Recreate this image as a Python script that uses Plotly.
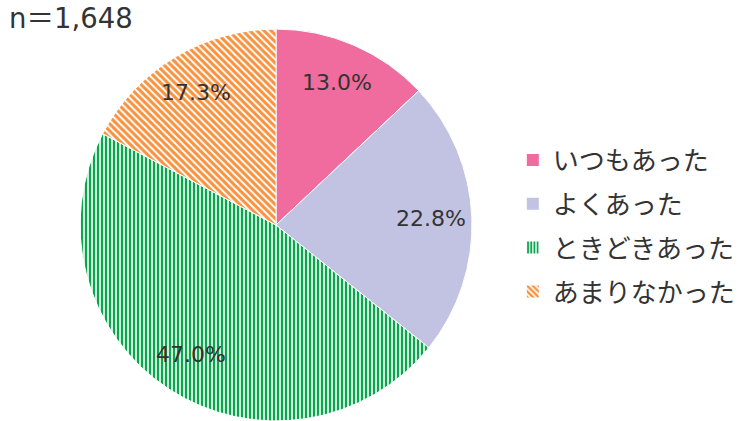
import math
import plotly.graph_objects as go

labels = ["いつもあった", "よくあった", "ときどきあった", "あまりなかった"]
values = [13.0, 22.8, 47.0, 17.3]
text_labels = ["13.0%", "22.8%", "47.0%", "17.3%"]
n_label = "n＝1,648"

colors = ["#F06C9E", "#C2C2E2", "#FFFFFF", "#FFFFFF"]
fg = ["#F06C9E", "#C2C2E2", "#0AA64F", "#F7923F"]
shapes = ["", "", "|", "\\"]
psize = [4, 4, 4, 5]

W, H = 740, 421
dom_x = [0.108, 0.638]
dom_y = [0.0, 0.931]

fig = go.Figure()
fig.add_trace(go.Pie(
    labels=labels, values=values,
    textinfo="none", showlegend=False,
    sort=False, direction="clockwise", rotation=0,
    marker=dict(colors=colors, line=dict(color="white", width=1),
                pattern=dict(shape=shapes, fgcolor=fg, bgcolor=colors,
                             size=psize, solidity=0.6, fillmode="replace")),
    domain=dict(x=dom_x, y=dom_y),
    hoverinfo="label+percent",
))

# legend entries (bar traces so the legend swatches carry the patterns)
for i, lab in enumerate(labels):
    fig.add_trace(go.Bar(
        x=[lab], y=[0], name=lab, legendgroup=lab,
        marker=dict(color=colors[i], line=dict(width=0),
                    pattern=dict(shape=shapes[i], fgcolor=fg[i], bgcolor=colors[i],
                                 size=psize[i], solidity=0.6, fillmode="replace")),
        hoverinfo="skip",
    ))

# percentage labels placed along each slice's mid-angle
cx = (dom_x[0] + dom_x[1]) / 2 * W
cy = (dom_y[0] + dom_y[1]) / 2 * H
R = min((dom_x[1] - dom_x[0]) * W, (dom_y[1] - dom_y[0]) * H) / 2
total = sum(values)
cum = 0.0
for v, t in zip(values, text_labels):
    mid = (cum + v / 2) / total * 2 * math.pi
    cum += v
    r = 0.79 * R
    px = cx + r * math.sin(mid)
    py = cy + r * math.cos(mid)
    fig.add_annotation(text=t, x=px / W, y=py / H, xref="paper", yref="paper",
                       showarrow=False, xanchor="center", yanchor="middle",
                       font=dict(size=22, color="#333333", family="DejaVu Sans"))

fig.add_annotation(text=n_label, x=0.010, y=1.0, xref="paper", yref="paper",
                   xanchor="left", yanchor="top", showarrow=False,
                   font=dict(size=27.5, color="#333333", family="DejaVu Sans, Noto Sans CJK JP"))

fig.update_layout(
    width=W, height=H,
    margin=dict(l=0, r=0, t=0, b=0, autoexpand=False),
    paper_bgcolor="white", plot_bgcolor="white",
    font=dict(family="Noto Sans CJK JP", color="#333333"),
    xaxis=dict(visible=False), yaxis=dict(visible=False),
    legend=dict(x=0.693, y=0.463, xanchor="left", yanchor="middle",
                font=dict(size=26, color="#333333", family="Noto Sans CJK JP"),
                traceorder="grouped", tracegroupgap=7,
                bgcolor="rgba(0,0,0,0)"),
)

fig.write_html("out.html", config={"displayModeBar": False},
               post_script="document.body.style.margin='0';")
